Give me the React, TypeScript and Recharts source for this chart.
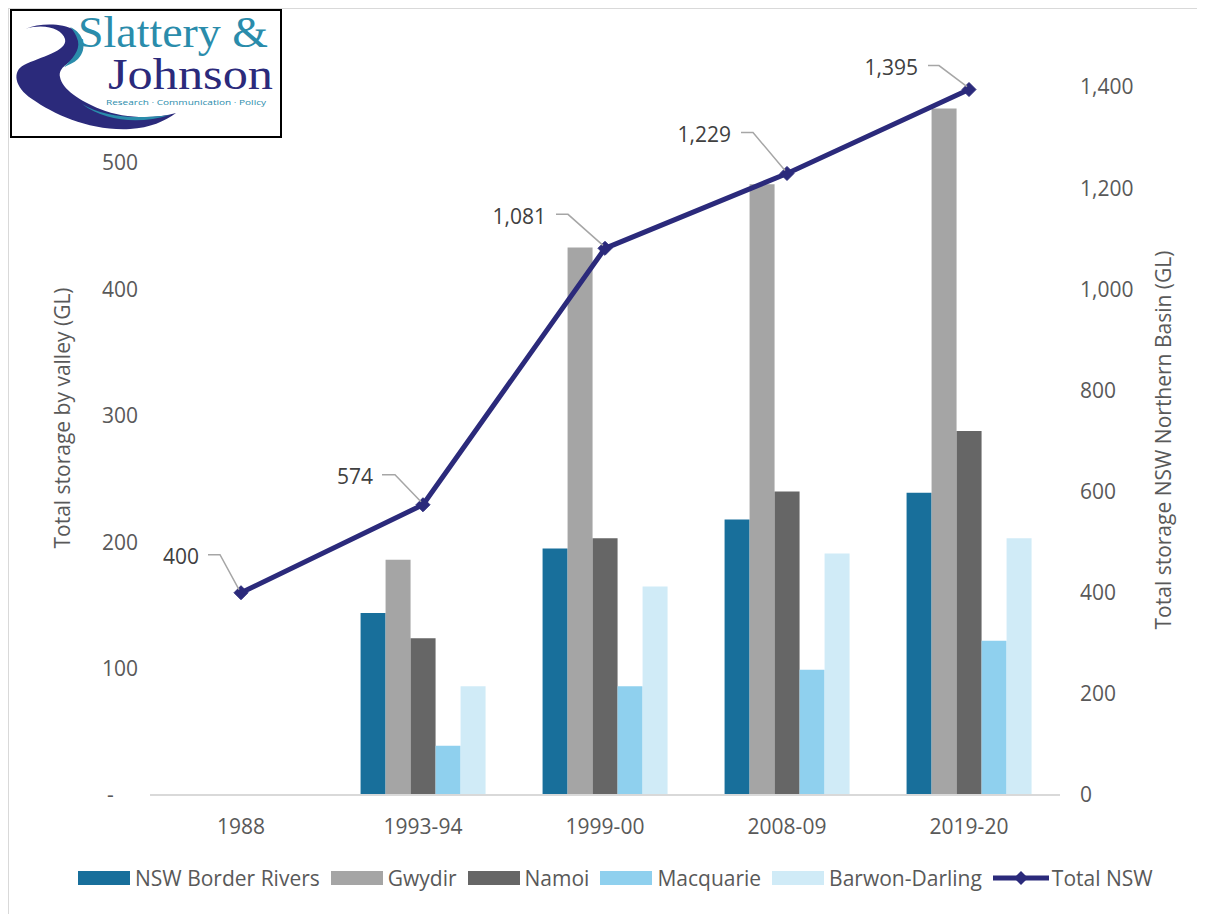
import React from 'react';
import {
  ComposedChart,
  Bar,
  Line,
  XAxis,
  YAxis,
  Legend,
  LabelList,
  Label,
} from 'recharts';

const categories = ['1988', '1993-94', '1999-00', '2008-09', '2019-20'];
const borderRivers = [null, 144, 195, 218, 239];
const gwydir = [null, 186, 433, 483, 543];
const namoi = [null, 124, 203, 240, 288];
const macquarie = [null, 39, 86, 99, 122];
const barwonDarling = [null, 86, 165, 191, 203];
const totalNSW = [400, 574, 1081, 1229, 1395];

const leftTicks = [0, 100, 200, 300, 400, 500];
const rightTicks = [0, 200, 400, 600, 800, 1000, 1200, 1400];

const seriesNames = ['NSW Border Rivers', 'Gwydir', 'Namoi', 'Macquarie', 'Barwon-Darling', 'Total NSW'];
const seriesColors = ['#186f9b', '#a5a5a5', '#666666', '#8fd0ee', '#d0ebf7', '#2b2a7b'];

// leader-label placement (relative to the point) for each line label
const labelPlacement = [
  { tx: -42, ty: -36, lx1: -33, lx2: -21, ly: -38 },
  { tx: -50, ty: -28, lx1: -41, lx2: -28, ly: -30 },
  { tx: -59, ty: -32, lx1: -49, lx2: -37, ly: -34 },
  { tx: -56, ty: -39, lx1: -46, lx2: -34, ly: -41 },
  { tx: -51, ty: -22, lx1: -41, lx2: -30, ly: -24 },
];

const data = categories.map((c, i) => ({
  category: c,
  borderRivers: borderRivers[i],
  gwydir: gwydir[i],
  namoi: namoi[i],
  macquarie: macquarie[i],
  barwonDarling: barwonDarling[i],
  totalNSW: totalNSW[i],
}));

const FONT = '"Open Sans", "DejaVu Sans", sans-serif';
const SERIF = '"Liberation Serif", "DejaVu Serif", serif';
const TICK_COLOR = '#595959';

const LeftTick = (props: any) => {
  const { x, y, payload } = props;
  const v = payload.value;
  if (v === 0) {
    return (
      <text x={x - 31} y={y} dy="0.355em" textAnchor="start" fill={TICK_COLOR} fontSize={21} fontFamily={FONT}>
        -
      </text>
    );
  }
  return (
    <text x={x} y={y} dy="0.355em" textAnchor="end" fill={TICK_COLOR} fontSize={21} fontFamily={FONT}>
      {v}
    </text>
  );
};

const Diamond = (props: any) => {
  const { cx, cy } = props;
  if (cx == null || cy == null) return null;
  const r = 7;
  return (
    <polygon
      points={`${cx},${cy - r} ${cx + r},${cy} ${cx},${cy + r} ${cx - r},${cy}`}
      fill="#2b2a7b"
      stroke="#2b2a7b"
      strokeWidth={1}
    />
  );
};

const LeaderLabel = (props: any) => {
  const { x, y, value, index } = props;
  const p = labelPlacement[index];
  if (!p) return null;
  return (
    <g>
      <polyline
        points={`${x + p.lx1},${y + p.ly} ${x + p.lx2},${y + p.ly} ${x - 2},${y - 3}`}
        fill="none"
        stroke="#a6a6a6"
        strokeWidth={1.5}
      />
      <text
        x={x + p.tx}
        y={y + p.ty}
        dy="0.355em"
        textAnchor="end"
        fill="#404040"
        fontSize={21}
        fontFamily={FONT}
      >
        {Number(value).toLocaleString('en-US')}
      </text>
    </g>
  );
};

const LegendContent = () => (
  <div
    style={{
      display: 'flex',
      alignItems: 'center',
      paddingLeft: 69,
      fontFamily: FONT,
      fontSize: 21,
      color: TICK_COLOR,
      height: 30,
      whiteSpace: 'nowrap',
    }}
  >
    {seriesNames.map((name, i) => (
      <div key={name} style={{ display: 'flex', alignItems: 'center', marginRight: i === seriesNames.length - 1 ? 0 : 11 }}>
        {i < 5 ? (
          <div style={{ width: 52, height: 14, background: seriesColors[i], marginRight: 5 }} />
        ) : (
          <svg width={56} height={16} style={{ marginRight: 3 }}>
            <line x1={0} y1={8} x2={56} y2={8} stroke={seriesColors[i]} strokeWidth={5} />
            <polygon points="28,1 35,8 28,15 21,8" fill={seriesColors[i]} />
          </svg>
        )}
        <span>{name}</span>
      </div>
    ))}
  </div>
);

const Logo = () => (
  <svg
    width={272}
    height={129}
    style={{ position: 'absolute', left: 1, top: 0 }}
  >
    <rect x={1} y={1} width={270} height={127} fill="#ffffff" stroke="#000000" strokeWidth={2} />
    <path
      d="M 15 20 C 35 14, 52 20, 55 30 C 58 42, 30 48, 14 56 C 2 62, 4 78, 22 90 C 45 106, 80 122, 120 120 C 140 119, 155 112, 166 104 C 145 110, 115 110, 90 100 C 70 92, 52 80, 50 68 C 48 58, 60 54, 66 48 C 74 40, 74 28, 64 21 C 52 14, 30 14, 15 20 Z"
      fill="#2b2a7b"
    />
    <path
      d="M 60 18 C 74 24, 78 40, 68 50 C 64 54, 58 56, 54 58 C 62 50, 70 42, 68 32 C 66 26, 64 22, 60 18 Z"
      fill="#2a8cab"
    />
    <path
      d="M 72 95 C 92 107, 122 111, 160 106 C 130 115, 96 113, 72 95 Z"
      fill="#2a8cab"
    />
    <text x={68} y={38} fontSize={44} fontFamily={SERIF} fill="#2a8cab" textLength={190} lengthAdjust="spacingAndGlyphs">
      Slattery &amp;
    </text>
    <text x={98} y={80} fontSize={45} fontFamily={SERIF} fill="#2b2a7b" textLength={165} lengthAdjust="spacingAndGlyphs">
      Johnson
    </text>
    <text x={96} y={96} fontSize={8} fontFamily={FONT} fill="#2a8cab" textLength={160} lengthAdjust="spacingAndGlyphs">
      Research · Communication · Policy
    </text>
  </svg>
);

export default function App() {
  return (
    <div
      style={{
        position: 'relative',
        width: 1196,
        height: 905,
        borderTop: '1px solid #d9d9d9',
        borderLeft: '1px solid #d9d9d9',
        borderRight: '1px solid #d9d9d9',
        background: '#ffffff',
      }}
    >
      <ComposedChart
        width={1196}
        height={905}
        data={data}
        margin={{ top: 78, right: 0, bottom: 0, left: 0 }}
        barCategoryGap="15.7%"
        barGap={0}
      >
        <XAxis
          dataKey="category"
          height={119}
          tickLine={false}
          tickSize={0}
          tickMargin={24}
          axisLine={{ stroke: '#d9d9d9', strokeWidth: 2 }}
          tick={{ fill: TICK_COLOR, fontSize: 21, fontFamily: FONT }}
        />
        <YAxis
          yAxisId="left"
          orientation="left"
          width={141}
          domain={[0, 560]}
          ticks={leftTicks}
          axisLine={false}
          tickLine={false}
          tickSize={0}
          tickMargin={12}
          tick={<LeftTick />}
        >
          <Label
            content={() => (
              <text
                x={53}
                y={409}
                transform="rotate(-90 53 409)"
                textAnchor="middle"
                dominantBaseline="central"
                fill={TICK_COLOR}
                fontSize={21}
                fontFamily={FONT}
              >
                Total storage by valley (GL)
              </text>
            )}
          />
        </YAxis>
        <YAxis
          yAxisId="right"
          orientation="right"
          width={145}
          domain={[0, 1400]}
          ticks={rightTicks}
          axisLine={false}
          tickLine={false}
          tickSize={0}
          tickMargin={20}
          tick={{ fill: TICK_COLOR, fontSize: 21, fontFamily: FONT }}
          tickFormatter={(v: number) => v.toLocaleString('en-US')}
        >
          <Label
            content={() => (
              <text
                x={1154}
                y={431}
                transform="rotate(-90 1154 431)"
                textAnchor="middle"
                dominantBaseline="central"
                fill={TICK_COLOR}
                fontSize={21}
                fontFamily={FONT}
              >
                Total storage NSW Northern Basin (GL)
              </text>
            )}
          />
        </YAxis>
        <Legend
          layout="horizontal"
          verticalAlign="middle"
          align="center"
          wrapperStyle={{ top: 854, left: 0, width: 1196 }}
          content={<LegendContent />}
        />
        <Bar yAxisId="left" dataKey="borderRivers" name={seriesNames[0]} fill={seriesColors[0]} isAnimationActive={false} />
        <Bar yAxisId="left" dataKey="gwydir" name={seriesNames[1]} fill={seriesColors[1]} isAnimationActive={false} />
        <Bar yAxisId="left" dataKey="namoi" name={seriesNames[2]} fill={seriesColors[2]} isAnimationActive={false} />
        <Bar yAxisId="left" dataKey="macquarie" name={seriesNames[3]} fill={seriesColors[3]} isAnimationActive={false} />
        <Bar yAxisId="left" dataKey="barwonDarling" name={seriesNames[4]} fill={seriesColors[4]} isAnimationActive={false} />
        <Line
          yAxisId="right"
          type="linear"
          dataKey="totalNSW"
          name={seriesNames[5]}
          stroke={seriesColors[5]}
          strokeWidth={5}
          dot={<Diamond />}
          activeDot={false}
          isAnimationActive={false}
        >
          <LabelList dataKey="totalNSW" content={<LeaderLabel />} />
        </Line>
      </ComposedChart>
      <Logo />
    </div>
  );
}
